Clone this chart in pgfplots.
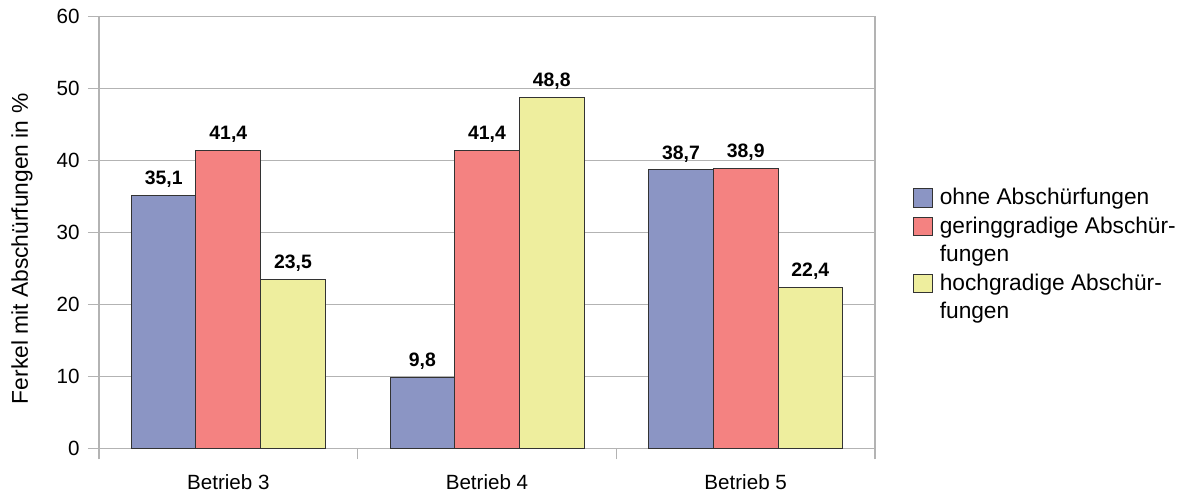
\documentclass[border=0pt]{standalone}
\usepackage{pgfplots}
\pgfplotsset{compat=1.18}
\usepackage{fontspec}
\setmainfont{Liberation Sans}
\definecolor{cblue}{RGB}{139,149,196}
\definecolor{cred}{RGB}{244,130,129}
\definecolor{cyellow}{RGB}{238,238,158}
\definecolor{cgrid}{RGB}{179,179,179}
\pgfplotsset{sqlegend/.style={legend image code/.code={\draw[##1,line width=0.5pt] (0pt,-4.6pt) rectangle (9.2pt,4.6pt);}}}
\begin{document}
\begin{tikzpicture}
\begin{axis}[
  name=ax,
  scale only axis,
  width=388pt, height=215.8pt,
  xmin=-0.5, xmax=2.5, ymin=0, ymax=60,
  ytick={0,10,...,60},
  xtick={-0.5,0.5,1.5,2.5},
  xticklabels={},
  extra x ticks={0,1,2},
  extra x tick labels={Betrieb 3,Betrieb 4,Betrieb 5},
  extra x tick style={major tick length=0pt, grid=none,
     xticklabel style={anchor=north, inner sep=0pt, yshift=-13pt}},
  xtick pos=lower, ytick pos=left,
  tick align=outside,
  major tick length=5.5pt,
  tick style={cgrid, line width=0.6pt},
  axis line style={cgrid, line width=0.6pt},
  ymajorgrids,
  major grid style={cgrid, line width=0.6pt},
  /pgf/number format/assume math mode=true,
  ticklabel style={font=\fontsize{10.3}{12}\selectfont},
  yticklabel style={anchor=east, inner sep=0pt, xshift=-4pt},
  ylabel={Ferkel mit Abschürfungen in \%},
  ylabel style={at={(axis description cs:-0.0992,0.462)}, anchor=center, rotate=0, font=\fontsize{11.4}{14}\selectfont},
  ybar=0pt, bar width=0.25,
  nodes near coords={\pgfmathprintnumber[fixed,fixed zerofill,precision=1,use comma,assume math mode=true]{\pgfplotspointmeta}},
  nodes near coords style={font=\bfseries\fontsize{9.7}{11}\selectfont, anchor=south, inner sep=0pt, yshift=3.7pt, black},
  legend style={draw=none, fill=none, at={(axis description cs:1.049,0.448)}, anchor=west,
     font=\fontsize{11.35}{14}\selectfont, cells={anchor=west, inner sep=0pt},
     inner sep=0pt, row sep=0.5pt, /tikz/every odd column/.style={column sep=1.5pt}},
]
\addplot[fill=cblue, draw=black!80, line width=0.5pt, bar shift=-0.25, sqlegend] coordinates {(0,35.1) (1,9.8) (2,38.7)};
\addlegendentry{ohne Abschürfungen}
\addplot[fill=cred, draw=black!80, line width=0.5pt, bar shift=0, sqlegend] coordinates {(0,41.4) (1,41.4) (2,38.9)};
\addlegendentry{geringgradige Abschür-}
\addlegendimage{empty legend}
\addlegendentry{fungen}
\addplot[fill=cyellow, draw=black!80, line width=0.5pt, bar shift=0.25, sqlegend] coordinates {(0,23.5) (1,48.8) (2,22.4)};
\addlegendentry{hochgradige Abschür-}
\addlegendimage{empty legend}
\addlegendentry{fungen}
\end{axis}
\path ([shift={(-49.5pt,-22.35pt)}]ax.south west) rectangle ([shift={(544pt,224.15pt)}]ax.south west);
\end{tikzpicture}
\end{document}
